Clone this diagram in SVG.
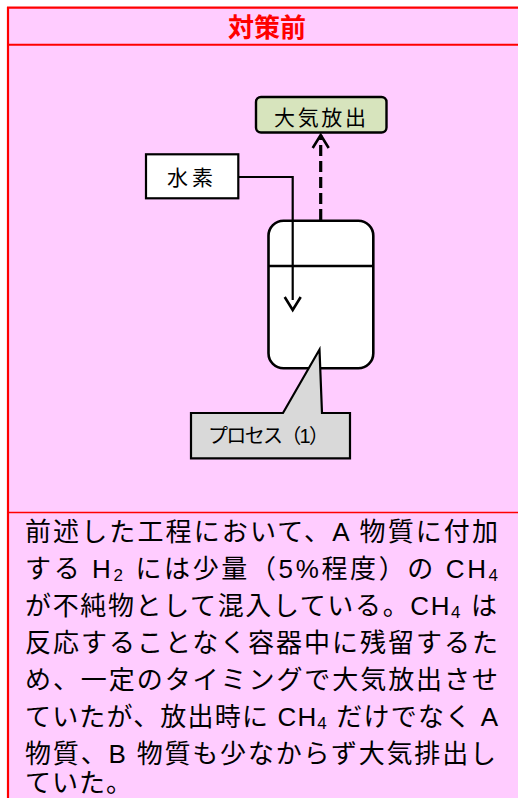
<svg xmlns="http://www.w3.org/2000/svg" width="518" height="798" viewBox="0 0 518 798">
<defs>
<style>
.frame{stroke:#ff0000;fill:none}
.lbl{font-family:"Liberation Sans","Noto Sans CJK JP",sans-serif;fill:#000}
.body{font-family:"Liberation Sans","Noto Sans CJK JP",sans-serif;font-size:26px;fill:#000}
.conn{stroke:#000;fill:none;stroke-width:2.2}
</style>
<marker id="arr" viewBox="-15 -10 17 20" refX="0" refY="0" markerWidth="17" markerHeight="20" markerUnits="userSpaceOnUse" orient="auto" overflow="visible">
<path d="M-13,-8 L0,0 L-13,8" fill="none" stroke="#000" stroke-width="2.6" stroke-dasharray="none" stroke-linejoin="miter"/>
</marker>
</defs>
<rect x="0" y="0" width="518" height="798" fill="#ffffff"/>
<rect x="8" y="7.5" width="520" height="800" fill="#ffccff"/>
<g id="frame">
<line class="frame" x1="7" y1="7.7" x2="518" y2="7.7" stroke-width="2.2"/>
<line class="frame" x1="8" y1="7" x2="8" y2="798" stroke-width="2.2"/>
<line class="frame" x1="8" y1="44.7" x2="518" y2="44.7" stroke-width="2"/>
<line class="frame" x1="8" y1="512.6" x2="518" y2="512.6" stroke-width="1.5"/>
</g>
<g id="title">
<text x="267" y="36.5" text-anchor="middle" font-family="'Liberation Sans','Noto Sans CJK JP',sans-serif" font-size="26" font-weight="bold" fill="#ff0000">対策前</text>
</g>
<g id="connectors">
<path class="conn" d="M238,177 L292.7,177 L292.7,310" marker-end="url(#arr)"/>
<path d="M320.7,220 L320.7,135" fill="none" stroke="#000" stroke-width="3.2" stroke-dasharray="11 5" marker-end="url(#arr)"/>
</g>
<g id="release">
<rect x="256" y="97" width="130.5" height="35.5" rx="5" fill="#d7e4bd" stroke="#000" stroke-width="2.4"/>
<text class="lbl" x="320" y="124.5" text-anchor="middle" font-size="21" textLength="92" lengthAdjust="spacing">大気放出</text>
</g>
<g id="hydrogen">
<rect x="146" y="154.3" width="92.3" height="44" fill="#ffffff" stroke="#000" stroke-width="2.2"/>
<text class="lbl" x="190" y="184.5" text-anchor="middle" font-size="21" textLength="46" lengthAdjust="spacing">水素</text>
</g>
<g id="vessel">
<rect x="268.5" y="220.8" width="104.8" height="147.5" rx="15" fill="#ffffff" stroke="#000" stroke-width="2.6"/>
<line x1="268.5" y1="266" x2="373.3" y2="266" stroke="#000" stroke-width="2.4"/>
<line x1="292.7" y1="222" x2="292.7" y2="300" stroke="#000" stroke-width="2.2"/>
<path d="M284.7,297 L292.7,310 L300.7,297" fill="none" stroke="#000" stroke-width="2.6"/>
</g>
<g id="process">
<path d="M191,413 L283,413 L319.5,349.5 L322,413 L350,413 L350,458.3 L191,458.3 Z" fill="#d9d9d9" stroke="#000" stroke-width="2.2" stroke-linejoin="miter"/>
<text class="lbl" x="208" y="442.5" font-size="20" textLength="121" lengthAdjust="spacing">プロセス（1）</text>
</g>
<g id="description">
<text class="body" x="25" y="541" textLength="473" lengthAdjust="spacing">前述した工程において、A 物質に付加</text>
<text class="body" x="25" y="578" textLength="473" lengthAdjust="spacing">する H<tspan font-size="17" dy="3">2</tspan><tspan dy="-3"> には少量（5%程度）の CH</tspan><tspan font-size="17" dy="3">4</tspan></text>
<text class="body" x="25" y="615" textLength="472" lengthAdjust="spacing">が不純物として混入している。CH<tspan font-size="17" dy="3">4</tspan><tspan dy="-3"> は</tspan></text>
<text class="body" x="25" y="652" textLength="473" lengthAdjust="spacing">反応することなく容器中に残留するた</text>
<text class="body" x="25" y="689" textLength="473" lengthAdjust="spacing">め、一定のタイミングで大気放出させ</text>
<text class="body" x="25" y="726" textLength="473" lengthAdjust="spacing">ていたが、放出時に CH<tspan font-size="17" dy="3">4</tspan><tspan dy="-3"> だけでなく A</tspan></text>
<text class="body" x="25" y="763" textLength="471" lengthAdjust="spacing">物質、B 物質も少なからず大気排出し</text>
<text class="body" x="25" y="792" letter-spacing="1">ていた。</text>
</g>
</svg>
